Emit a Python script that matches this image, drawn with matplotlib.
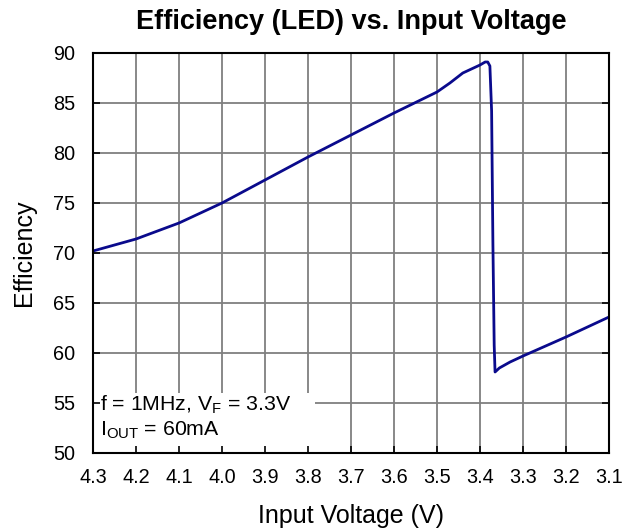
import matplotlib.pyplot as plt
from matplotlib.patches import Rectangle

plt.rcParams['font.family'] = ['Liberation Sans', 'DejaVu Sans']
plt.rcParams['mathtext.fontset'] = 'custom'
plt.rcParams['mathtext.rm'] = 'Liberation Sans'

# --- Data ---
vin = [4.30, 4.20, 4.10, 4.00, 3.90, 3.80, 3.70, 3.60, 3.50, 3.47, 3.44, 3.40,
       3.388, 3.382, 3.377, 3.373, 3.370, 3.367, 3.365, 3.355, 3.33, 3.30, 3.20, 3.10]
eff = [70.2, 71.4, 73.0, 75.0, 77.3, 79.6, 81.8, 84.0, 86.1, 87.0, 88.0, 88.8,
       89.1, 89.1, 88.7, 84.2, 71.0, 60.8, 58.1, 58.5, 59.1, 59.7, 61.6, 63.6]
x_ticks = [4.3, 4.2, 4.1, 4.0, 3.9, 3.8, 3.7, 3.6, 3.5, 3.4, 3.3, 3.2, 3.1]
y_ticks = [50, 55, 60, 65, 70, 75, 80, 85, 90]

fig = plt.figure(figsize=(6.34, 5.32), dpi=100)
ax = fig.add_axes([93 / 634, 1 - 453 / 532, 516 / 634, 400 / 532])

ax.plot(vin, eff, color='#0a0a8c', linewidth=2, zorder=3)

ax.set_xlim(4.3, 3.1)
ax.set_ylim(50, 90)
ax.set_xticks(x_ticks)
ax.set_xticklabels([f"{v:.1f}" for v in x_ticks])
ax.set_yticks(y_ticks)

# grid drawn by hand so the note box can cover it but not the ticks
for xv in x_ticks:
    ax.axvline(xv, color='#7f7f7f', linewidth=1.3, zorder=1)
for yv in y_ticks:
    ax.axhline(yv, color='#7f7f7f', linewidth=1.3, zorder=1)
ax.set_axisbelow(False)
ax.tick_params(direction='in', length=5, width=1.2, labelsize=14.3, right=True)
ax.tick_params(axis='x', pad=11)
ax.tick_params(axis='y', pad=13)
for s in ax.spines.values():
    s.set_linewidth(1.5)
    s.set_zorder(4)

ax.set_title("Efficiency (LED) vs. Input Voltage", fontsize=19.5,
             fontweight='bold', pad=17)
ax.set_xlabel("Input Voltage (V)", fontsize=18, labelpad=12)
ax.set_ylabel("Efficiency", fontsize=18, labelpad=12)

# white box behind the condition note
ax.add_patch(Rectangle((0, 0), 222 / 516, 60 / 400, transform=ax.transAxes,
                       facecolor='white', edgecolor='none', zorder=1.5))
ax.text(4.284, 54.8, r"f = 1MHz, $\mathregular{V_F}$ = 3.3V", fontsize=15.3,
        va='center', ha='left', zorder=3)
ax.text(4.284, 52.3, r"$\mathregular{I_{OUT}}$ = 60mA", fontsize=15.3,
        va='center', ha='left', zorder=3)

fig.savefig("out.png", dpi=100)
